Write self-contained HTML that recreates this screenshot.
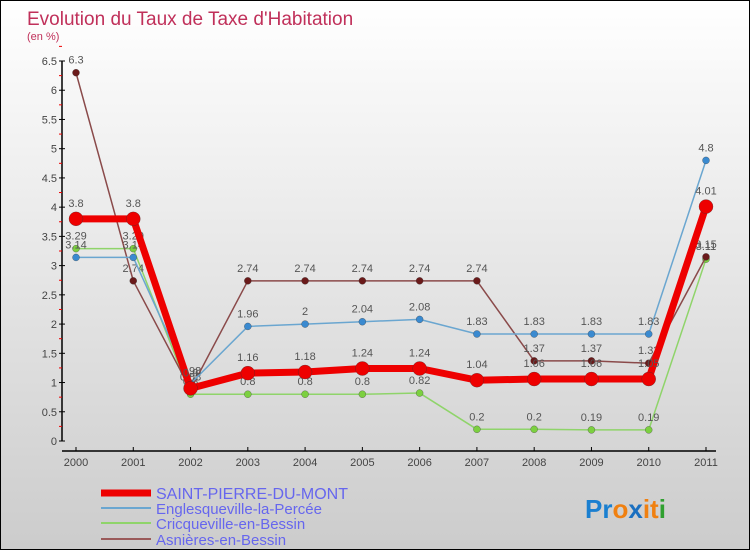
<!DOCTYPE html>
<html><head><meta charset="utf-8"><style>
body{margin:0;}
#c{width:748px;height:548px;border:1px solid #000;background:linear-gradient(#fff,#ccc);position:relative;overflow:hidden;font-family:"Liberation Sans",sans-serif;}
</style></head><body>
<div id="c">
<svg id="s" width="748" height="548" xmlns="http://www.w3.org/2000/svg">
<text x="26" y="24" font-size="19" fill="#c0305a">Evolution du Taux de Taxe d'Habitation</text>
<text x="26" y="39" font-size="11" fill="#c0305a">(en %)</text>
<g id="axes"></g><g id="series"></g>
<g>
<line x1="100" y1="492" x2="150" y2="492" stroke="#e00" stroke-width="7"/>
<text x="155" y="498" font-size="16" fill="#6666ee">SAINT-PIERRE-DU-MONT</text>
<line x1="100" y1="507" x2="150" y2="507" stroke="#6aa6d0" stroke-width="2"/>
<text x="155" y="513" font-size="15" fill="#6666ee">Englesqueville-la-Percée</text>
<line x1="100" y1="522" x2="150" y2="522" stroke="#8fd46a" stroke-width="2"/>
<text x="155" y="528" font-size="15" fill="#6666ee">Cricqueville-en-Bessin</text>
<line x1="100" y1="538" x2="150" y2="538" stroke="#9a5a5a" stroke-width="2"/>
<text x="155" y="544" font-size="15" fill="#6666ee">Asnières-en-Bessin</text>
</g>
<text x="584" y="517" font-size="26" font-weight="bold"><tspan fill="#1a7fd0">Pr</tspan><tspan fill="#f08010">o</tspan><tspan fill="#1a6fc0">x</tspan><tspan fill="#f08010">it</tspan><tspan fill="#30a030">i</tspan></text>
</svg></div>
<script>
const years=["2000","2001","2002","2003","2004","2005","2006","2007","2008","2009","2010","2011"];
const yTicks=[0,0.5,1,1.5,2,2.5,3,3.5,4,4.5,5,5.5,6,6.5];
const spdm=[3.8,3.8,0.9,1.16,1.18,1.24,1.24,1.04,1.06,1.06,1.06,4.01];
const spdmLabels=["3.8","3.8","0.9","1.16","1.18","1.24","1.24","1.04","1.06","1.06","1.05","4.01"];
const engl=[3.14,3.14,0.98,1.96,2,2.04,2.08,1.83,1.83,1.83,1.83,4.8];
const englLabels=["3.14","3.14","0.98","1.96","2","2.04","2.08","1.83","1.83","1.83","1.83","4.8"];
const cricq=[3.29,3.29,0.8,0.8,0.8,0.8,0.82,0.2,0.2,0.19,0.19,3.11];
const cricqLabels=["3.29","3.29","0.8","0.8","0.8","0.8","0.82","0.2","0.2","0.19","0.19","3.11"];
const asn=[6.3,2.74,0.88,2.74,2.74,2.74,2.74,2.74,1.37,1.37,1.33,3.15];
const asnLabels=["6.3","2.74","0.88","2.74","2.74","2.74","2.74","2.74","1.37","1.37","1.33","3.15"];
const NS="http://www.w3.org/2000/svg";
const xS=i=>75+i*(705-75)/(years.length-1);
const yS=v=>440-v*(380/6.5);
function mk(t,a,p){const e=document.createElementNS(NS,t);for(const k in a)e.setAttribute(k,a[k]);p.appendChild(e);return e;}
const ax=document.getElementById('axes');
let l=mk('line',{x1:61,y1:yS(6.5),x2:61,y2:440,stroke:'#000','stroke-width':1.5},ax);


yTicks.forEach(v=>{
 let t=mk('line',{x1:58,y1:yS(v),x2:64,y2:yS(v),stroke:'#000'},ax);
 
 
 let m=mk('line',{x1:58,y1:yS(v+0.25),x2:61,y2:yS(v+0.25),stroke:'#e00'},ax);
 
 
 let tx=mk('text',{x:56,y:yS(v)+4,'font-size':11,'text-anchor':'end',fill:'#444'},ax);
 tx.textContent=String(v);
 
 
});
let xl=mk('line',{x1:61,y1:450,x2:715,y2:450,stroke:'#000','stroke-width':1.5},ax);


years.forEach((y,i)=>{
 let t=mk('line',{x1:xS(i),y1:446,x2:xS(i),y2:450,stroke:'#000'},ax);
 
 
 let tx=mk('text',{x:xS(i),y:465,'font-size':11,'text-anchor':'middle',fill:'#444'},ax);
 tx.textContent=y;
 
 
});
const sg=document.getElementById('series');
function draw(vals,labs,color,dot,w,r,name){
 const g=mk('g',{},sg);
 
 
 const p=mk('polyline',{points:vals.map((v,i)=>xS(i)+','+yS(v)).join(' '),fill:'none',stroke:color,'stroke-width':w,'stroke-linejoin':'round'},g);
 
 
 vals.forEach((v,i)=>{
  const c=mk('circle',{cx:xS(i),cy:yS(v),r:r,fill:dot,stroke:'#333','stroke-width':0.3},g);
  
  
  const t=mk('text',{x:xS(i),y:yS(v)-9-(r>4?3:0),'font-size':11,'text-anchor':'middle',fill:'#555'},g);
  t.textContent=labs[i];
  
  
 });
}
draw(cricq,cricqLabels,'#8fd46a','#7cd040',1.5,3.5,'cricqueville-series');
draw(asn,asnLabels,'#8a4a4a','#6a1a1a',1.5,3.5,'asnieres-series');
draw(engl,englLabels,'#6aa6d0','#3a8ad0',1.5,3.5,'englesqueville-series');
draw(spdm,spdmLabels,'#ee0000','#ee0000',7,7,'saint-pierre-series');
</script>
</body></html>
